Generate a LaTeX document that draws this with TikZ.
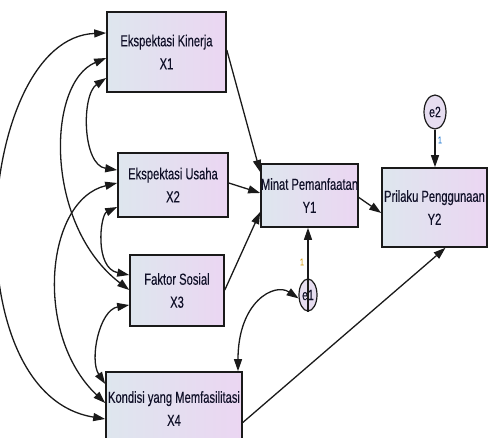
\documentclass[tikz,border=0pt]{standalone}
\usepackage{fontspec}
\setmainfont{Liberation Sans}[FakeStretch=0.70,FakeBold=0.3]
\usetikzlibrary{arrows.meta,shapes.geometric}
\definecolor{boxL}{HTML}{DEE6EE}
\definecolor{boxR}{HTML}{EBD6F2}
\definecolor{edgec}{HTML}{1A1A1A}
\definecolor{txt}{HTML}{101028}
\definecolor{errf}{HTML}{E6DDF0}
\definecolor{oneA}{HTML}{D9A21B}
\definecolor{oneB}{HTML}{2F7FD0}
\tikzset{
 varbox/.style={draw=edgec, line width=1.6pt, left color=boxL, right color=boxR, inner sep=0pt, align=center, font=\fontsize{16}{23}\selectfont, text=txt},
 errnode/.style={ellipse, draw=edgec, line width=1.2pt, fill=errf, inner sep=0pt, font=\fontsize{15}{15}\selectfont, text=txt},
 pathedge/.style={draw=edgec, line width=1.3pt, -{Triangle[length=12pt,width=8pt]}},
 covedge/.style={draw=edgec, line width=1.3pt, {Triangle[length=12pt,width=8pt]}-{Triangle[length=12pt,width=8pt]}},
 onelbl/.style={font=\fontsize{10}{10}\selectfont, inner sep=0pt}
}
\begin{document}
\begin{tikzpicture}[x=1pt,y=-1pt]
\useasboundingbox (0,0) rectangle (490,438);
\clip (0,0) rectangle (490,438);
\node[varbox, minimum width=119pt, minimum height=80pt] (X1) at (166.5,52) {Ekspektasi Kinerja\\X1};
\node[varbox, minimum width=110pt, minimum height=64pt] (X2) at (173,185) {Ekspektasi Usaha\\X2};
\node[varbox, minimum width=94pt, minimum height=71pt] (X3) at (177,290.5) {Faktor Sosial\\X3};
\node[varbox, minimum width=136pt, minimum height=73pt] (X4) at (174,408.5) {Kondisi yang Memfasilitasi\\X4};
\node[varbox, minimum width=95pt, minimum height=63pt] (Y1) at (309.5,195.5) {Minat Pemanfaatan\\Y1};
\node[varbox, minimum width=105pt, minimum height=79pt] (Y2) at (434.5,207.5) {Prilaku Penggunaan\\Y2};
\node[errnode, minimum width=22pt, minimum height=34pt] (e2) at (435,112) {e2};
\node[errnode, minimum width=18pt, minimum height=32pt] (e1) at (308,295) {e1};
\node[onelbl, text=oneA] (l1) at (302,262) {1};
\node[onelbl, text=oneB] (l2) at (440,140) {1};
% covariances
\draw[covedge] ([yshift=-26pt]X1.west) .. controls +(-25,17) and +(-35,-5) .. ([yshift=15pt]X2.west);
\draw[covedge] ([yshift=-22pt]X2.west) .. controls +(-17,8) and +(-35,-7) .. ([yshift=15.5pt]X3.west);
\draw[covedge] ([yshift=-14.5pt]X3.west) .. controls +(-30,5) and +(-16,-24) .. ([yshift=24.5pt]X4.west);
\draw[covedge] ([yshift=-6pt]X1.west) .. controls +(-60,25) and +(-85,-65) .. ([yshift=0.5pt]X3.west);
\draw[covedge] ([yshift=2pt]X2.west) .. controls +(-72,17) and +(-72,-68) .. ([yshift=5.5pt]X4.west);
\draw[covedge] ([yshift=19pt]X1.west) .. controls +(-130,5) and +(-155,-25) .. ([yshift=-10.5pt]X4.west);
\draw[covedge] ([xshift=64pt]X4.north) .. controls +(0,-70) and +(-24,-16) .. (e1.200);
% paths
\draw[pathedge] ([yshift=2pt]X1.east) -- ([yshift=23.5pt]Y1.west);
\draw[pathedge] ([yshift=2pt]X2.east) -- ([yshift=2.5pt]Y1.west);
\draw[pathedge] ([yshift=0.5pt]X3.east) -- ([yshift=-16.5pt]Y1.west);
\draw[pathedge] ([yshift=-2pt]Y1.east) -- ([yshift=-5.5pt]Y2.west);
\draw[pathedge] ([yshift=-14pt]X4.east) -- ([xshift=11pt]Y2.south);
\draw[pathedge] (e1.south) -- (e1.south |- Y1.south);
\draw[pathedge] (e2.south) -- (e2.south |- Y2.north);
\end{tikzpicture}
\end{document}
